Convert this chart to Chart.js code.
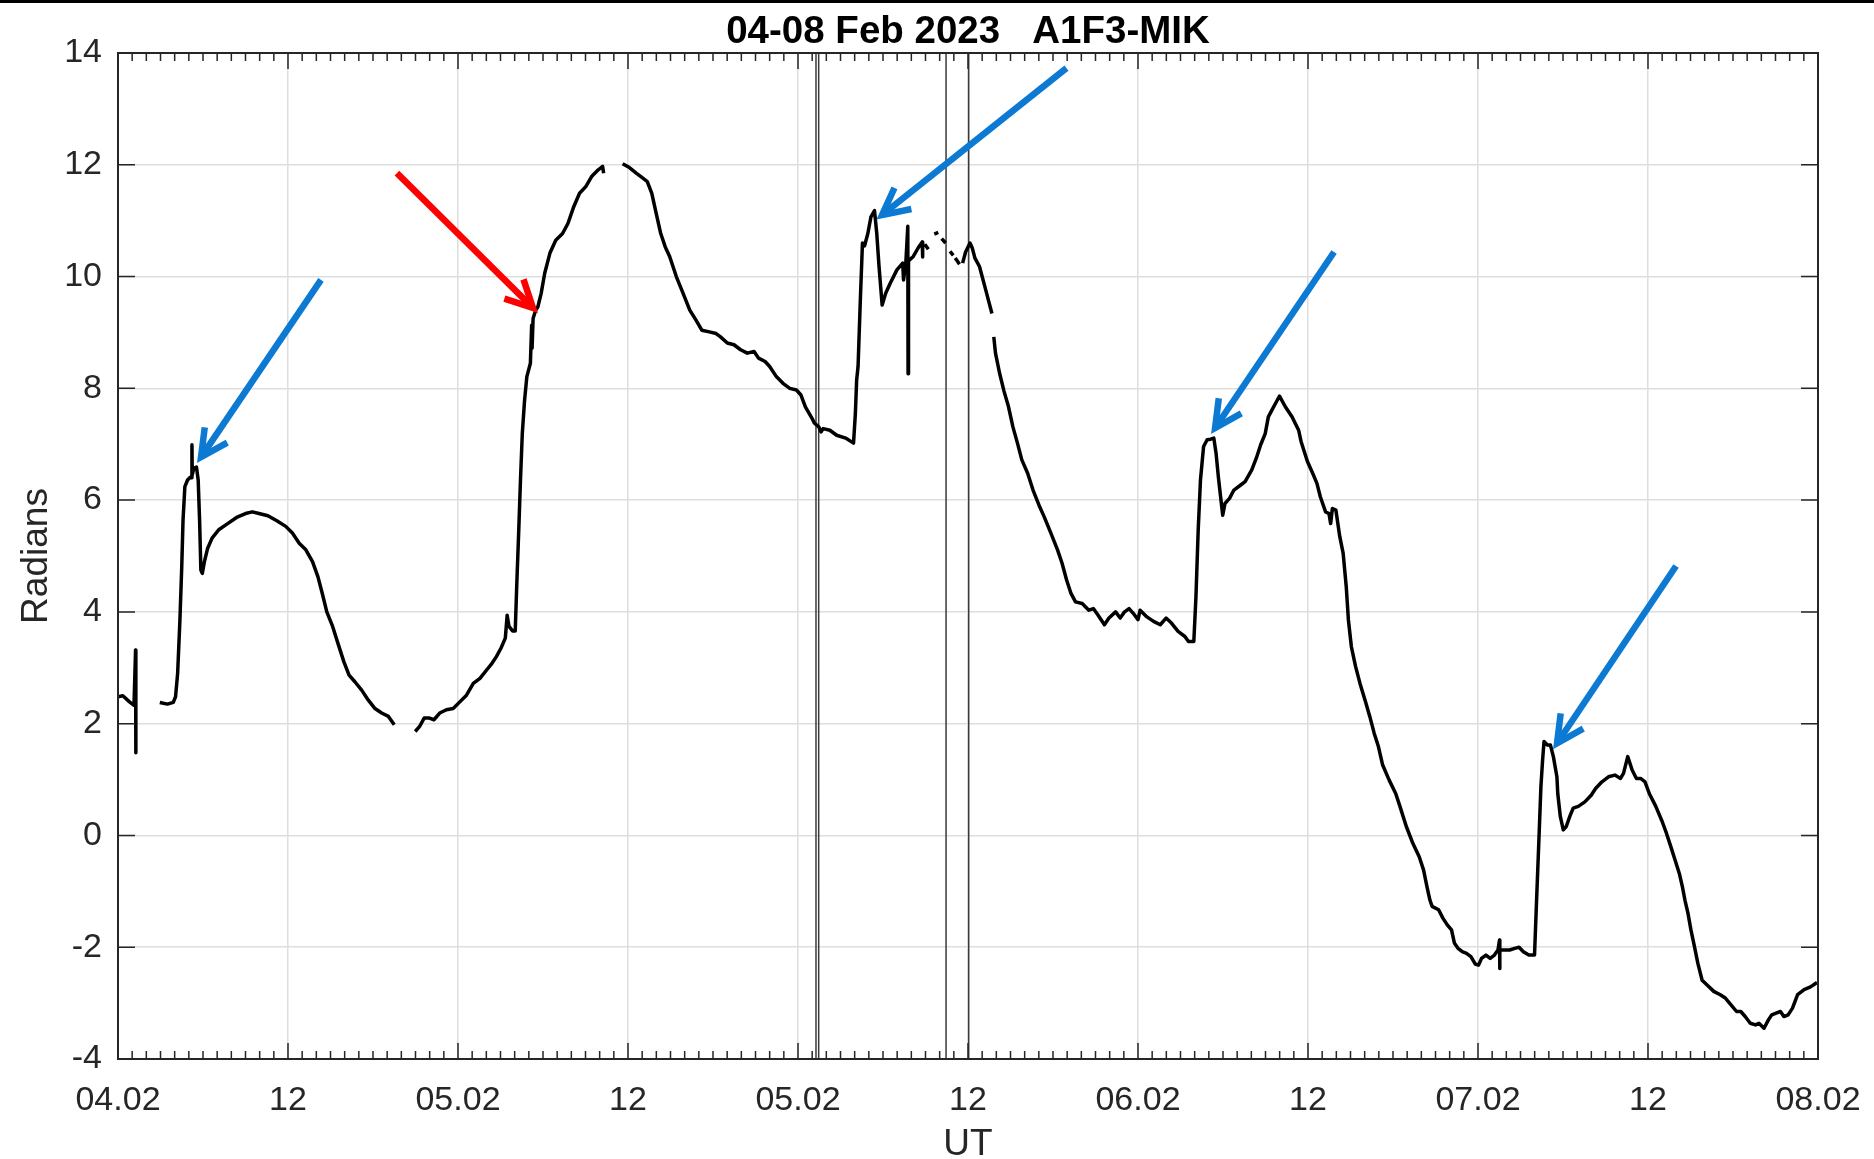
<!DOCTYPE html>
<html>
<head>
<meta charset="utf-8">
<script src="https://cdn.jsdelivr.net/npm/chart.js@4.4.1/dist/chart.umd.min.js"></script>
<style>
html,body{margin:0;padding:0;background:#fff;}
canvas{display:block;}
</style>
</head>
<body>
<canvas id="phase" width="1874" height="1159"></canvas>
<script>
// hours since 04.02 00 UT and phase in radians; null breaks the trace
const utHours = [
  0.00,0.34,0.81,1.13,1.24,1.26, 2.0,
  2.95,3.49,3.90,4.06,4.21,4.37,4.50,4.59,4.72,4.91,5.10,5.20,5.22,5.24,5.35,5.54,5.66,5.76,5.85,5.95,
  6.10,6.33,6.64,7.11,7.74,8.37,9.00,9.48,9.95,10.58,11.21,11.84,12.31,12.79,13.26,13.73,14.11,14.42,
  14.74,15.15,15.56,15.94,16.31,16.72,17.20,17.67,18.14,18.61,19.09,19.50, 20.2,
  20.98,21.29,21.61,21.99,22.30,22.71,23.18,23.66,24.13,24.60,25.08,25.55,26.02,26.40,26.71,27.03,
  27.34,27.47,27.60,27.85,28.04,28.16,28.29,28.41,28.54,28.70,28.86,29.11,29.20,29.23,29.30,29.49,
  29.64,29.87,30.12,30.49,30.90,31.38,31.76,32.17,32.58,33.02,33.43,33.90,34.21,34.28, 35.0,
  35.62,36.10,36.58,37.05,37.36,37.68,37.99,38.31,38.63,38.94,39.41,39.89,40.36,40.80,41.21,41.74,
  42.22,42.53,43.01,43.48,43.95,44.42,44.90,45.21,45.68,46.00,46.47,46.94,47.42,47.89,48.21,48.52,
  49.00,49.15,49.47,49.62,49.78,50.25,50.73,51.36,51.92,52.05,52.14,52.24,52.40,52.55,52.70,52.93,
  53.15,53.40,53.56,53.72,53.94,54.19,54.51,54.98,55.39,55.45,55.61,55.75,55.77,55.80,56.14,56.50,
  56.77,56.80, 56.88,
  56.95,57.20, 57.4, 57.62,57.90, 58.0, 58.14,58.42, 58.6, 58.73,58.96, 59.03, 59.10,59.40, 59.5,
  59.62,59.83,60.14,60.30,60.49,60.81,61.19,61.50,61.69, 61.75,
  61.82,61.94,62.23,62.54,62.86,63.17,63.49,63.80,64.21,64.59,65.06,65.38,65.85,66.32,66.64,66.96,
  67.27,67.59,68.06,68.53,68.85,69.16,69.63,69.95,70.42,70.74,71.05,71.37,71.68,72.00,72.15,72.63,
  73.10,73.57,73.98,74.36,74.83,75.31,75.56,75.94,76.09,76.25,76.41,76.63,76.88,77.13,77.35,77.51,
  77.67,77.83,77.98,78.14,78.46,78.77,79.25,79.56,80.03,80.35,80.66,80.98,81.20,81.45,81.77,81.99,
  82.40,82.87,83.34,83.51,83.96,84.33,84.63,84.87,85.24,85.48,85.60,85.72,85.97,86.24,86.48,86.70,
  86.85,87.06,87.36,87.67,88.06,88.36,88.67,88.97,89.27,89.73,90.19,90.49,90.94,91.40,91.85,92.16,
  92.40,92.61,92.76,93.22,93.52,93.83,94.13,94.34,94.59,94.89,95.19,95.50,95.80,96.04,96.25,96.56,
  96.86,97.16,97.41,97.52,97.53,97.55,97.77,98.23,98.59,98.90,99.20,99.59,99.99,100.11,100.29,100.44,
  100.56,100.66,100.90,101.11,101.32,101.57,101.63,101.81,102.02,102.23,102.48,102.72,103.08,103.54,
  103.99,104.30,104.75,105.21,105.66,106.06,106.27,106.57,106.88,107.18,107.48,107.79,108.09,108.55,
  109.00,109.30,109.61,109.91,110.21,110.43,110.61,110.82,111.03,111.28,111.52,111.82,112.19,112.64,
  113.10,113.46,113.86,114.25,114.55,114.86,115.22,115.59,115.83,116.19,116.50,116.74,117.04,117.35,
  117.59,117.89,118.20,118.56,119.02,119.47,119.93
];
const phaseRad = [
  2.48,2.50,2.39,2.33,3.32,1.48, null,
  2.38,2.35,2.38,2.48,2.90,3.85,4.81,5.64,6.24,6.36,6.41,6.40,6.99,6.45,6.57,6.59,6.36,5.64,4.75,4.69,
  4.90,5.14,5.32,5.47,5.58,5.69,5.76,5.79,5.76,5.72,5.63,5.53,5.41,5.23,5.11,4.90,4.63,4.33,
  4.00,3.74,3.41,3.11,2.87,2.75,2.60,2.42,2.27,2.19,2.13,1.98, null,
  1.86,1.95,2.10,2.10,2.07,2.19,2.25,2.27,2.39,2.51,2.72,2.81,2.96,3.08,3.20,3.35,
  3.53,3.94,3.74,3.66,3.66,4.57,5.47,6.36,7.20,7.79,8.21,8.45,9.13,8.72,9.25,9.40,
  9.46,9.70,10.06,10.42,10.65,10.77,10.95,11.25,11.49,11.61,11.79,11.91,11.97,11.85, null,
  12.02,11.95,11.85,11.76,11.70,11.49,11.13,10.77,10.53,10.36,10.00,9.70,9.40,9.22,9.04,9.01,
  8.98,8.92,8.81,8.78,8.69,8.63,8.66,8.54,8.48,8.39,8.21,8.09,8.00,7.97,7.88,7.67,
  7.46,7.38,7.31,7.22,7.28,7.25,7.16,7.11,7.02,7.55,8.15,8.39,9.58,10.60,10.55,10.77,
  11.07,11.18,10.77,10.18,9.49,9.70,9.88,10.12,10.24,9.94,10.24,10.90,8.26,10.28,10.36,10.52,
  10.62,10.35, null,
  10.58,10.49, null, 10.76,10.79, null, 10.68,10.60, null, 10.45,10.38, null, 10.33,10.22, null,
  10.24,10.44,10.60,10.51,10.33,10.18,9.82,9.52,9.34, null,
  8.92,8.63,8.27,7.95,7.67,7.31,7.02,6.72,6.48,6.18,5.88,5.70,5.41,5.11,4.87,4.57,
  4.33,4.18,4.15,4.03,4.06,3.95,3.77,3.89,4.00,3.89,4.00,4.06,3.97,3.86,4.03,3.91,
  3.83,3.77,3.89,3.80,3.65,3.56,3.47,3.47,4.27,5.47,6.36,6.96,7.08,7.09,7.11,6.84,
  6.42,6.06,5.73,5.94,6.03,6.18,6.27,6.33,6.54,6.75,6.99,7.19,7.49,7.61,7.76,7.86,
  7.67,7.49,7.25,7.05,6.69,6.48,6.30,6.06,5.79,5.76,5.58,5.85,5.82,5.35,5.05,4.45,
  3.86,3.38,3.02,2.72,2.39,2.13,1.83,1.59,1.26,0.99,0.75,0.52,0.16,-0.14,-0.38,-0.62,
  -0.92,-1.16,-1.27,-1.33,-1.48,-1.60,-1.69,-1.93,-2.02,-2.08,-2.11,-2.17,-2.30,-2.32,-2.20,-2.14,
  -2.20,-2.14,-2.05,-1.87,-2.38,-2.05,-2.05,-2.05,-2.02,-2.00,-2.08,-2.14,-2.14,-1.33,-0.14,0.87,
  1.35,1.68,1.62,1.62,1.41,1.05,0.75,0.34,0.10,0.16,0.34,0.49,0.52,0.60,
  0.72,0.84,0.96,1.05,1.08,1.02,1.11,1.41,1.17,1.02,1.02,0.96,0.75,0.52,
  0.25,0.04,-0.20,-0.44,-0.68,-0.92,-1.16,-1.39,-1.69,-1.99,-2.29,-2.59,-2.68,-2.79,
  -2.85,-2.91,-3.03,-3.15,-3.15,-3.24,-3.36,-3.39,-3.36,-3.45,-3.30,-3.21,-3.18,-3.15,
  -3.24,-3.21,-3.09,-2.85,-2.76,-2.71,-2.63
];

// vertical event markers (hours)
const eventHours = [49.27, 49.46, 58.45, 60.05];

// axes
const xTickHours = [0,12,24,36,48,60,72,84,96,108,120];
const xTickLabels = ['04.02','12','05.02','12','05.02','12','06.02','12','07.02','12','08.02'];
const yTickValues = [-4,-2,0,2,4,6,8,10,12,14];

// annotation arrows: [hours, radians] of tail and tip
const arrowTails = [[14.33,9.94],[19.69,11.85],[66.95,13.73],[85.84,10.44],[109.98,4.82]];
const arrowTips  = [[5.86,6.77],[29.29,9.44],[53.93,11.10],[77.44,7.29],[101.58,1.65]];
const arrowColors = ['#0c79d3','#ff0000','#0c79d3','#0c79d3','#0c79d3'];

const AXIS = '#262626';
const FONT = "'Liberation Sans', Arial, Helvetica, sans-serif";

const phasePoints = utHours.map((h,i)=>({x:h, y:phaseRad[i]}));
const eventPoints = [];
eventHours.forEach(h=>{ eventPoints.push({x:h,y:-4},{x:h,y:14},{x:h,y:null}); });

const frame = {
  id: 'frame',
  afterDraw(chart){
    const {ctx, chartArea:a, scales:{x, y}} = chart;
    ctx.save();
    ctx.fillStyle = '#000';
    ctx.fillRect(0, 0, chart.width, 3);

    // box and inward ticks
    ctx.strokeStyle = AXIS;
    ctx.lineWidth = 2;
    ctx.strokeRect(a.left, a.top, a.width, a.height);
    ctx.lineWidth = 1.5;
    ctx.beginPath();
    for(let h=0; h<=120; h++){
      const px = x.getPixelForValue(h), len = h%12===0 ? 16 : 8;
      ctx.moveTo(px, a.bottom); ctx.lineTo(px, a.bottom-len);
      ctx.moveTo(px, a.top); ctx.lineTo(px, a.top+len);
    }
    yTickValues.forEach(v=>{
      const py = y.getPixelForValue(v);
      ctx.moveTo(a.left, py); ctx.lineTo(a.left+17, py);
      ctx.moveTo(a.right, py); ctx.lineTo(a.right-17, py);
    });
    ctx.stroke();

    // arrows
    ctx.lineWidth = 6.5;
    ctx.lineJoin = 'miter';
    arrowTails.forEach((t,i)=>{
      const sx = x.getPixelForValue(t[0]), sy = y.getPixelForValue(t[1]);
      const tx = x.getPixelForValue(arrowTips[i][0]), ty = y.getPixelForValue(arrowTips[i][1]);
      const ang = Math.atan2(sy-ty, sx-tx), head = 30, spread = 0.47;
      ctx.strokeStyle = arrowColors[i];
      ctx.beginPath();
      ctx.moveTo(sx, sy); ctx.lineTo(tx, ty);
      ctx.stroke();
      ctx.beginPath();
      ctx.moveTo(tx+head*Math.cos(ang+spread), ty+head*Math.sin(ang+spread));
      ctx.lineTo(tx, ty);
      ctx.lineTo(tx+head*Math.cos(ang-spread), ty+head*Math.sin(ang-spread));
      ctx.stroke();
    });

    // titles
    const cx = (a.left+a.right)/2;
    ctx.textAlign = 'center';
    ctx.textBaseline = 'alphabetic';
    ctx.fillStyle = '#000';
    ctx.font = 'bold 38.5px ' + FONT;
    ctx.fillText('04-08 Feb 2023   A1F3-MIK', cx, 43);
    ctx.fillStyle = AXIS;
    ctx.font = '37px ' + FONT;
    ctx.fillText('UT', cx, 1155);
    ctx.translate(47, (a.top+a.bottom)/2);
    ctx.rotate(-Math.PI/2);
    ctx.fillText('Radians', 0, 0);
    ctx.restore();
  }
};

new Chart(document.getElementById('phase'), {
  type: 'line',
  data: {
    datasets: [
      { data: phasePoints, borderColor:'#000', borderWidth:3.5, pointRadius:0, spanGaps:false, tension:0, borderJoinStyle:'round' },
      { data: eventPoints, borderColor:'#3a3a3a', borderWidth:1.5, pointRadius:0, spanGaps:false }
    ]
  },
  options: {
    responsive: false,
    animation: false,
    devicePixelRatio: 1,
    layout: { padding: { left:0, right:56, top:53, bottom:0 } },
    plugins: { legend:{display:false}, tooltip:{enabled:false} },
    scales: {
      x: {
        type: 'linear', min: 0, max: 120,
        afterBuildTicks: s => { s.ticks = xTickHours.map(v=>({value:v})); },
        afterFit: s => { s.height = 100; s.paddingLeft = 0; s.paddingRight = 0; },
        ticks: { autoSkip:false, maxRotation:0, padding:21, color:AXIS, font:{family:FONT, size:34},
                 callback: (v,i) => xTickLabels[i] },
        grid: { color:'#dedede', lineWidth:1.5, drawTicks:false },
        border: { display:false }
      },
      y: {
        min: -4, max: 14,
        afterBuildTicks: s => { s.ticks = yTickValues.map(v=>({value:v})); },
        afterFit: s => { s.width = 118; s.paddingTop = 0; s.paddingBottom = 0; },
        ticks: { padding:16, color:AXIS, font:{family:FONT, size:34}, callback: v => String(v) },
        grid: { color:'#dedede', lineWidth:1.5, drawTicks:false },
        border: { display:false }
      }
    }
  },
  plugins: [frame]
});
</script>
</body>
</html>
